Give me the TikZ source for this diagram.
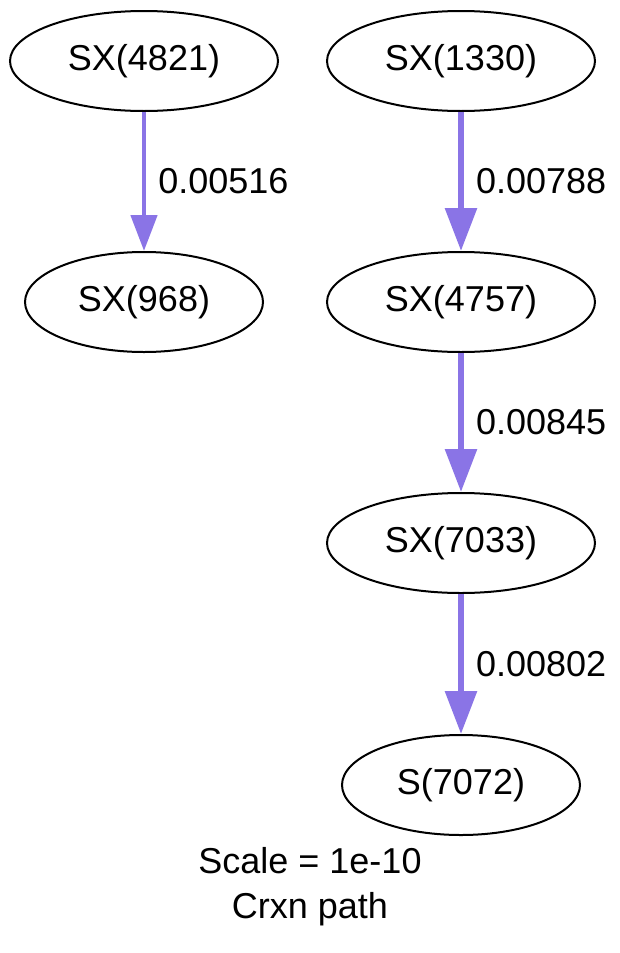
\documentclass[tikz,border=0pt]{standalone}
\usepackage{fontspec}
\setmainfont{Liberation Sans}
\usetikzlibrary{arrows.meta,shapes.geometric}
\definecolor{fluxcol}{RGB}{138,116,230}

\tikzset{
  species/.style={ellipse,draw,line width=1pt,inner sep=0pt,
    minimum width=134pt,minimum height=50pt},
  flux/.style={draw=fluxcol,line width=3pt,
    -{Triangle[width=15.5pt,length=21.5pt]}},
  fluxthin/.style={draw=fluxcol,line width=2.35pt,
    -{Triangle[width=13pt,length=18pt]}},
  fluxlabel/.style={midway,right,inner sep=6pt}
}

\begin{document}
\begin{tikzpicture}[x=0.5pt,y=-0.5pt,font=\fontsize{18}{22.5}\selectfont]

\useasboundingbox (0,0) rectangle (620,953);

\node[species] (sx4821) at (144,61) {SX(4821)};
\node[species,minimum width=119pt] (sx968) at (144,302) {SX(968)};

\node[species] (sx1330) at (461,61) {SX(1330)};
\node[species] (sx4757) at (461,302) {SX(4757)};
\node[species] (sx7033) at (461,543) {SX(7033)};
\node[species,minimum width=119pt] (s7072) at (461,785) {S(7072)};

\draw[fluxthin] (sx4821) -- (sx968) node[fluxlabel] {0.00516};
\draw[flux] (sx1330) -- (sx4757) node[fluxlabel] {0.00788};
\draw[flux] (sx4757) -- (sx7033) node[fluxlabel] {0.00845};
\draw[flux] (sx7033) -- (s7072) node[fluxlabel] {0.00802};

\node[align=center] (caption) at (310,887) {Scale = 1e-10\\Crxn path};
\end{tikzpicture}
\end{document}
